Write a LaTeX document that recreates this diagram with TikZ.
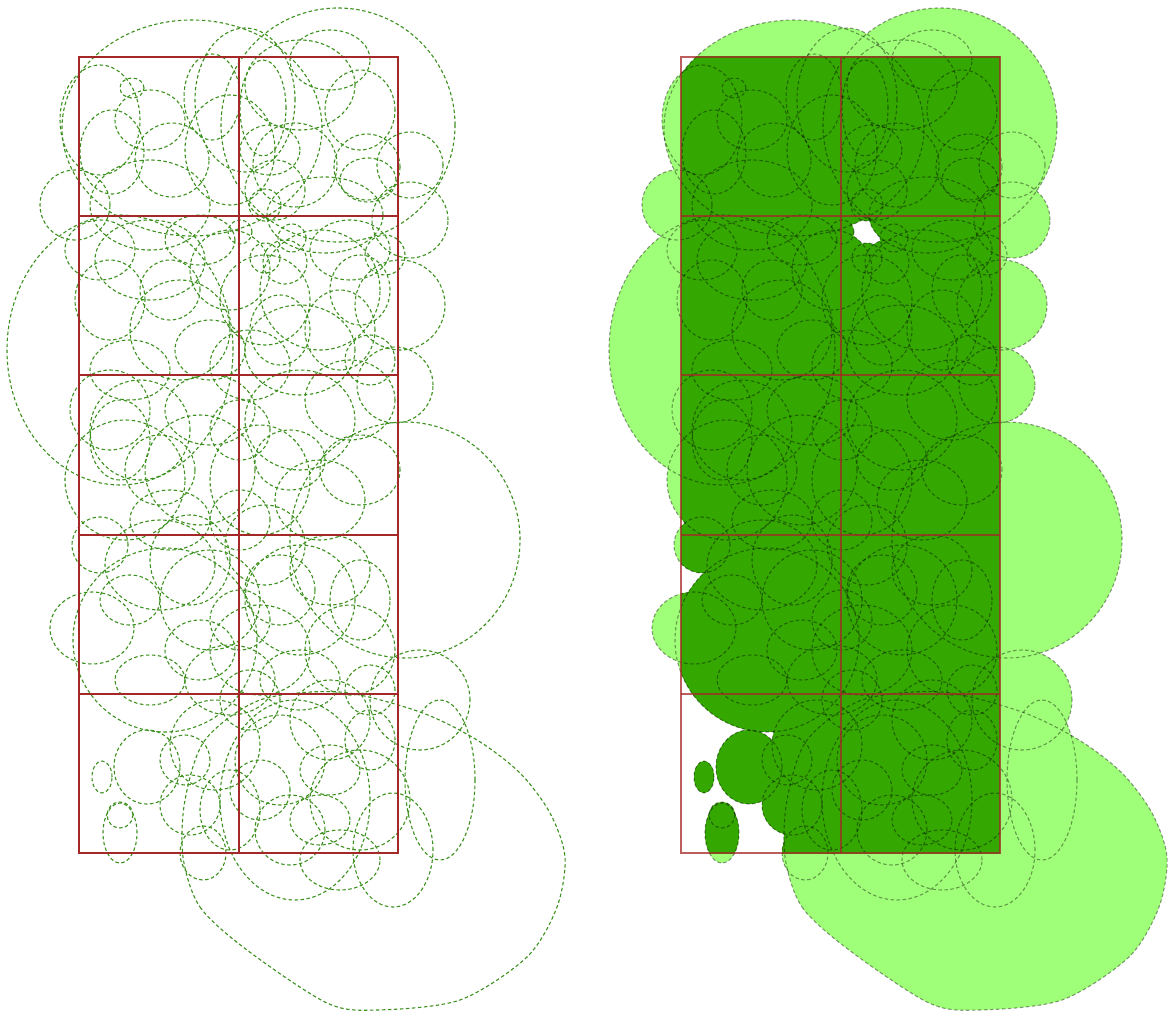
\documentclass[tikz,border=0pt]{standalone}
\usepackage{tikz}
\definecolor{lgreen}{RGB}{160,255,120}
\definecolor{dgreen}{RGB}{52,168,0}
\definecolor{dashg}{RGB}{60,145,30}
\definecolor{gridred}{RGB}{165,40,40}
\tikzset{
  blob/.style={line width=1.1pt, dash pattern=on 3.5pt off 2.5pt},
  gridline/.style={draw=gridred, line width=1.3pt},
}
\newcommand{\shapelist}{192/128/130/108, 338/125/117/117, 245/100/50/72, 132/88/12/10,
112/152/32/42, 172/160/37/37, 212/97/28/43, 150/205/60/45, 263/108/23/48,
295/165/42/42, 367/167/33/33, 410/165/33/33, 368/180/28/22, 300/85/55/45,
100/120/40/55, 230/150/45/55, 325/215/58/38, 120/350/113/135, 75/205/35/35,
410/220/38/38, 400/305/45/45, 395/385/38/38, 320/290/60/60, 230/270/40/40,
265/300/45/45, 150/260/55/40, 110/300/35/40, 180/330/50/50, 300/350/55/45,
350/250/40/30, 200/240/35/25, 130/370/40/30, 250/365/40/35, 340/330/35/40,
405/540/115/118, 140/430/50/50, 200/470/55/55, 125/480/60/60, 110/410/40/40,
300/420/55/50, 260/480/50/55, 350/400/45/40, 210/410/45/35, 320/500/45/40,
170/520/40/30, 100/545/28/28, 92/628/42/36, 165/640/92/92, 160/565/55/45,
210/600/50/50, 300/600/55/55, 260/650/50/45, 350/650/45/45, 420/700/50/50,
190/560/40/45, 330/570/40/35, 230/680/45/35, 147/767/33/37, 102/777/10/16,
120/833/17/30, 120/815/13/13, 190/805/30/30, 203/853/23/27, 215/745/45/45,
280/760/45/45, 330/720/40/40, 360/800/50/50, 290/830/35/35, 440/780/35/80,
393/850/40/57, 295/800/75/100, 250/700/30/30, 340/860/40/30, 230/810/30/40,
285/262/22/22, 275/190/30/30, 300/680/40/30,
240/232/12/12, 265/205/16/16, 292/238/14/14, 265/258/15/15,
265/545/40/40, 370/690/25/25, 370/360/25/25, 240/520/30/30, 385/255/20/20, 185/760/25/25,
150/120/35/30, 330/60/40/30, 360/110/35/40, 270/150/30/25,
100/250/35/30, 170/290/30/30, 210/350/35/30, 280/330/30/35, 360/290/30/35,
160/470/35/35, 240/430/30/30, 290/460/35/30, 360/470/40/35, 120/440/30/40,
130/600/30/25, 200/650/35/30, 280/590/35/35, 360/600/30/40, 240/620/30/30, 150/680/35/25,
260/790/30/30, 330/770/30/25, 370/740/25/30, 320/820/30/25}
\newcommand{\allshapes}[1]{%
  \foreach \x/\y/\a/\b in \shapelist {#1 (\x,\y) ellipse [x radius=\a pt, y radius=\b pt];}%
  #1 plot[smooth cycle] coordinates {(183,857) (200,907) (247,950) (327,1003) (377,1010)
    (460,1000) (527,957) (557,907) (565,857) (550,813) (520,773) (477,740) (420,712)
    (340,692) (260,700) (205,740) (185,800)};%
}
\newcommand{\mygrid}[1]{%
  \draw[gridline,#1] (79,57) rectangle (398,853);
  \draw[gridline,#1] (239,57) -- (239,853);
  \foreach \yy in {216,375,535,694} {\draw[gridline,#1] (79,\yy) -- (398,\yy);}
}
\begin{document}
\begin{tikzpicture}[x=1pt,y=-1pt]
\path[use as bounding box] (0,0) rectangle (1168,1014);
% left panel
\allshapes{\draw[blob,dashg]}
\mygrid{}
% right panel
\begin{scope}[xshift=602pt]
  \allshapes{\fill[lgreen]}
  \begin{scope}
    \clip (79,57) rectangle (398,853);
    \allshapes{\fill[dgreen]}
  \end{scope}
  \allshapes{\draw[blob,black,opacity=0.4]}
  \mygrid{opacity=0.75}
\end{scope}
\end{tikzpicture}
\end{document}
